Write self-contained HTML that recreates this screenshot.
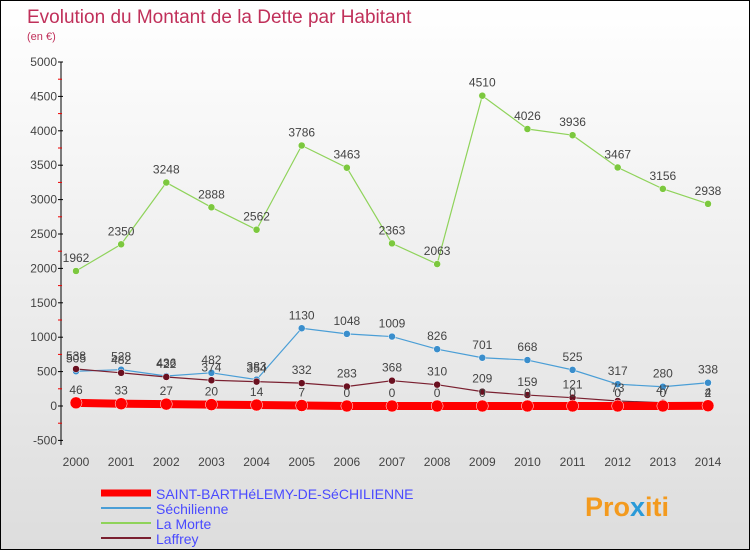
<!DOCTYPE html>
<html><head><meta charset="utf-8"><style>
body{margin:0;}
#c{width:750px;height:550px;position:relative;overflow:hidden;border:1px solid #000;box-sizing:border-box;background:linear-gradient(#fff,#ddd);font-family:"Liberation Sans",sans-serif;}
svg text{font-family:"Liberation Sans",sans-serif;}
</style></head><body>
<div id="c">
<svg id="s" width="750" height="550">
<text x="26" y="22" font-size="19" fill="#c0305a">Evolution du Montant de la Dette par Habitant</text>
<text x="26" y="39" font-size="11" fill="#c0305a">(en €)</text>
<g id="g"></g>
<text x="584" y="515" font-size="27" font-weight="bold" fill="#f39a1e">Pro<tspan fill="#2a9ad8">x</tspan>iti</text>
</svg>
</div>
<script>
const years=[2000,2001,2002,2003,2004,2005,2006,2007,2008,2009,2010,2011,2012,2013,2014];
const yTicks=[-500,0,500,1000,1500,2000,2500,3000,3500,4000,4500,5000];
const saint=[46,33,27,20,14,7,0,0,0,0,0,0,0,0,4];
const sech=[505,528,436,482,383,1130,1048,1009,826,701,668,525,317,280,338];
const morte=[1962,2350,3248,2888,2562,3786,3463,2363,2063,4510,4026,3936,3467,3156,2938];
const laffrey=[538,482,422,374,354,332,283,368,310,209,159,121,73,47,2];
const NS='http://www.w3.org/2000/svg';
const g=document.getElementById('g');
const X=i=>75+i*(707-75)/14;
const Y=v=>405-v*(405-61)/5000;
function el(t,a,p){const e=document.createElementNS(NS,t);for(const k in a)e.setAttribute(k,a[k]);(p||g).appendChild(e);return e;}
let ax=el('line',{x1:60,y1:61,x2:60,y2:444,stroke:'#000'});


yTicks.forEach(v=>{
 el('line',{x1:57,x2:62,y1:Y(v),y2:Y(v),stroke:'#000'});
 if(v<5000) el('line',{x1:57,x2:61,y1:Y(v+250),y2:Y(v+250),stroke:'#e00'});
 const t=el('text',{x:56,y:Y(v)+4,'text-anchor':'end','font-size':12,fill:'#444'});t.textContent=v;
 
 
});
years.forEach((y,i)=>{
 const t=el('text',{x:X(i),y:465,'text-anchor':'middle','font-size':12,fill:'#444'});t.textContent=y;
 
 
});
function series(data,color,w,r,name,mk){
 const p=el('polyline',{points:data.map((v,i)=>X(i)+','+Y(v)).join(' '),fill:'none',stroke:color,'stroke-width':w});
 
 
 data.forEach((v,i)=>{
  const c=el('circle',{cx:X(i),cy:Y(v),r:r,fill:mk,stroke:'#fff','stroke-width':0.5});
  
  
  const t=el('text',{x:X(i),y:Y(v)-9,'text-anchor':'middle','font-size':12,fill:'#444'});t.textContent=v;
  
  
 });
}
series(morte,'#8fd35a',1.2,3.5,'la-morte','#7cc83e');
series(sech,'#4a9ed6',1.2,3.5,'sechilienne','#3a8ecc');
series(laffrey,'#7a2030',1.2,3.5,'laffrey','#6a1020');
series(saint,'#f00',8,6,'saint-barthelemy','#f00');
const leg=[['SAINT-BARTHéLEMY-DE-SéCHILIENNE','#f00',7],['Séchilienne','#4a9ed6',2],['La Morte','#8fd35a',2],['Laffrey','#7a2030',2]];
leg.forEach((l,i)=>{
 const y=492+i*15;
 el('line',{x1:100,x2:150,y1:y,y2:y,stroke:l[1],'stroke-width':l[2]});
 const t=el('text',{x:155,y:y+6,'font-size':14,fill:'#4a4aff'});t.textContent=l[0];
 
 
});
</script>
</body></html>
